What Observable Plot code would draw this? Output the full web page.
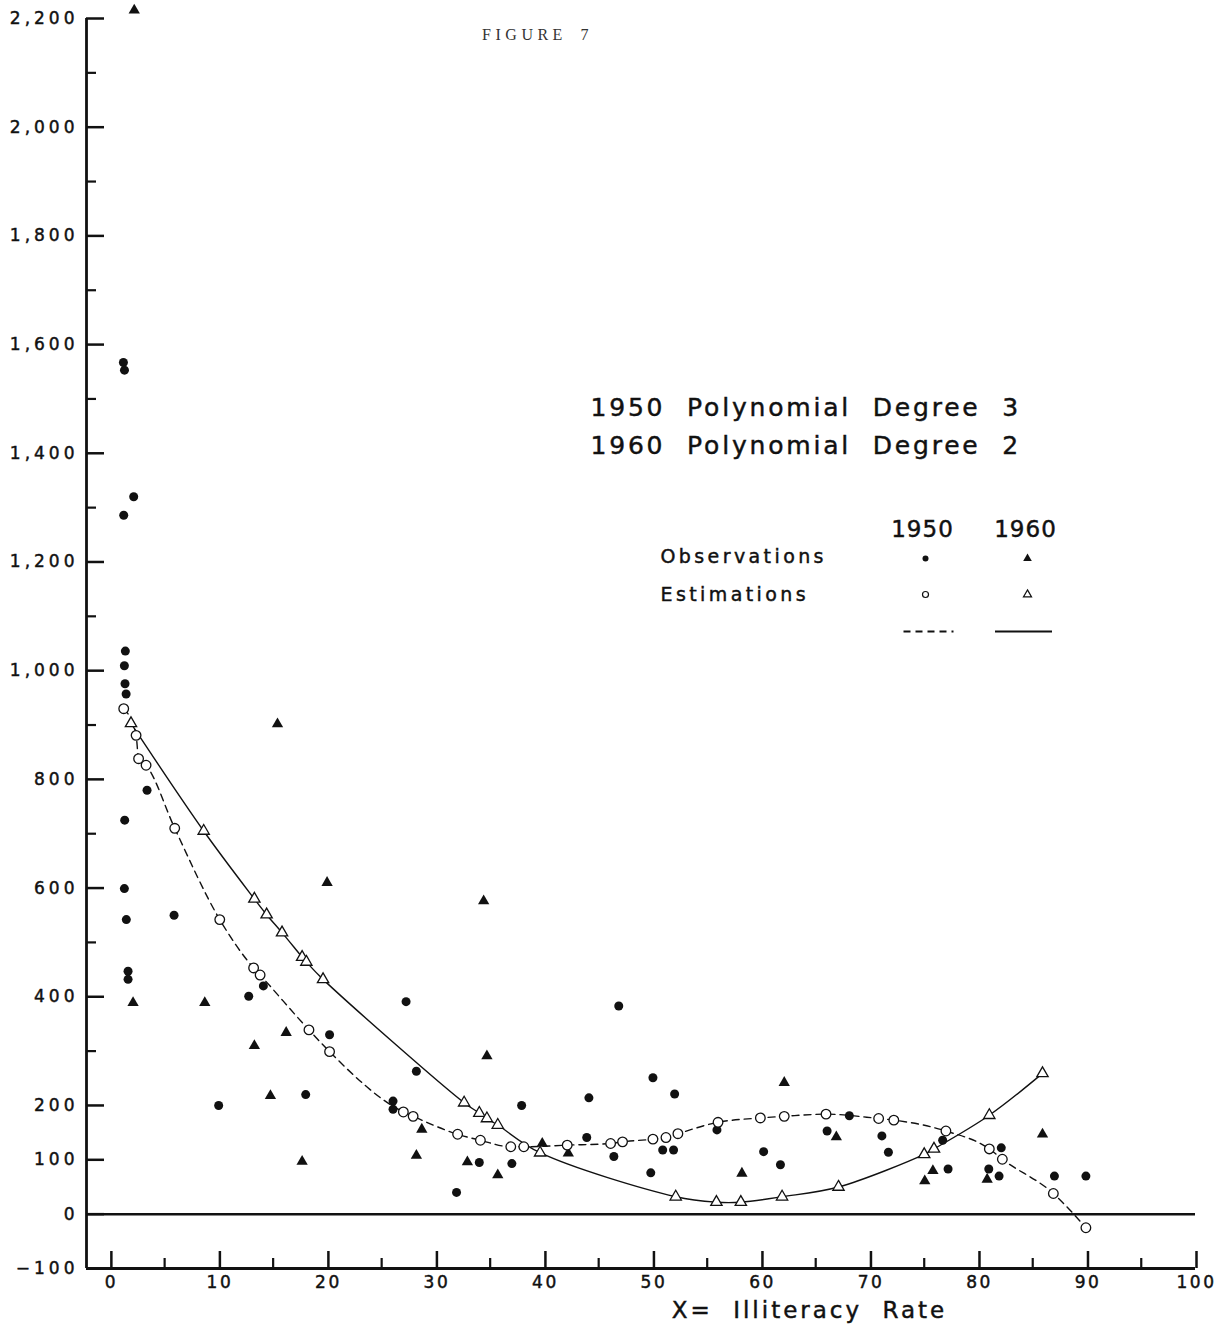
<!DOCTYPE html>
<html>
<head>
<meta charset="utf-8">
<script src="https://cdn.jsdelivr.net/npm/d3@7"></script>
<script src="https://cdn.jsdelivr.net/npm/@observablehq/plot@0.6"></script>
<style>
  body { margin: 0; background: #fff; }
  #chart svg { display: block; }
  g[aria-label="y-axis tick label"] text { letter-spacing: 4px; stroke: #111; stroke-width: 0.45px; }
  g[aria-label="x-axis tick label"] text { letter-spacing: 2.5px; stroke: #111; stroke-width: 0.45px; }
</style>
</head>
<body>
<div id="chart"></div>
<script>
// ---- axes ----
const xDomain = [-2.2, 100];
const yDomain = [-100, 2200];
const xTicksMajor = [0, 10, 20, 30, 40, 50, 60, 70, 80, 90, 100];
const xTicksMinor = [5, 15, 25, 35, 45, 55, 65, 75, 85, 95];
const yTicksMajor = [-100, 0, 100, 200, 400, 600, 800, 1000, 1200, 1400, 1600, 1800, 2000, 2200];
const yTicksMinor = [300, 500, 700, 900, 1100, 1300, 1500, 1700, 1900, 2100];

// ---- texts ----
const figureTitle = "FIGURE 7";
const xAxisTitle = "X= Illiteracy Rate";
const polyNotes = ["1950 Polynomial Degree 3", "1960 Polynomial Degree 2"];
const legendYears = ["1950", "1960"];
const legendRows = ["Observations", "Estimations"];

// ---- 1950 observations (filled circles) ----
const obs1950X = [1.2, 1.3, 2.15, 1.23, 1.38, 1.29, 1.35, 1.45, 3.38, 1.32, 1.29, 1.47, 5.87, 1.63, 1.63,
  12.75, 14.1, 9.98, 18.0, 20.2, 26.05, 26.05, 27.25, 28.2, 31.9, 34.0, 37.0, 37.9, 43.9, 44.1, 46.4,
  46.85, 49.8, 50.0, 50.9, 51.9, 52.0, 55.9, 60.2, 61.75, 66.05, 68.1, 71.1, 71.7, 76.7, 77.2, 80.95,
  81.9, 82.1, 87.0, 89.9];
const obs1950Y = [1567, 1553, 1320, 1286, 1036, 1009, 976, 957, 780, 725, 599, 542, 550, 447, 432,
  401, 420, 200, 220, 330, 208, 193, 391, 263, 40, 95, 93, 200, 141, 214, 106,
  383, 76, 251, 118, 118, 221, 155, 115, 91, 153, 181, 144, 114, 136, 83, 83,
  70, 122, 70, 70];

// ---- 1960 observations (filled triangles) ----
const obs1960X = [2.2, 2.09, 8.7, 13.27, 14.75, 15.4, 16.2, 17.67, 19.97, 28.2, 28.7, 32.9, 34.4, 34.7,
  35.7, 39.8, 42.2, 58.2, 62.1, 66.9, 75.05, 75.8, 80.8, 85.9];
const obs1960Y = [2215, 389, 389, 310, 218, 902, 334, 97, 610, 108, 156, 96, 576, 291,
  72, 130, 112, 75, 242, 142, 61, 80, 64, 147];

// ---- 1950 estimations (open circles, dashed curve) ----
const est1950X = [1.23, 2.37, 2.6, 3.29, 5.93, 10.08, 13.2, 13.8, 18.3, 20.2, 27.0, 27.9, 32.0, 34.1,
  36.9, 38.1, 42.1, 46.1, 47.2, 50.0, 51.2, 52.3, 56.0, 59.9, 62.1, 65.95, 70.8, 72.2, 77.0, 81.0,
  82.2, 86.9, 89.9];
const est1950Y = [930, 881, 838, 826, 710, 542, 453, 440, 339, 299, 188, 180, 147, 136,
  124, 124, 127, 130, 133, 138, 141, 148, 169, 177, 180, 184, 176, 173, 153, 120,
  101, 38, -25];

// ---- 1960 estimations (open triangles, solid curve) ----
const est1960X = [1.9, 8.6, 13.27, 14.4, 15.82, 17.67, 18.06, 19.6, 32.6, 34.0, 34.7, 35.7, 39.6,
  52.1, 55.85, 58.1, 61.9, 67.1, 75.0, 75.9, 81.0, 85.9];
const est1960Y = [903, 705, 580, 551, 518, 473, 464, 432, 205, 186, 176, 164, 113,
  32, 22, 22, 32, 50, 110, 120, 182, 259];

const zip = (xs, ys) => xs.map((x, i) => ({x, y: ys[i]}));
const obs1950 = zip(obs1950X, obs1950Y);
const obs1960 = zip(obs1960X, obs1960Y);
const est1950 = zip(est1950X, est1950Y);
const est1960 = zip(est1960X, est1960Y);

const ink = "#111";

// text placed relative to the frame's top-left corner
const note = (text, dx, dy, opts) =>
  Plot.text([text], {text: d => d, frameAnchor: "top-left", lineAnchor: "middle", dx, dy, fill: ink, ...opts});

// horizontal line symbol for legend keys
const hLine = (len) => ({draw(ctx) { ctx.moveTo(-len / 2, 0); ctx.lineTo(len / 2, 0); }});

const key = (dx, dy, opts) =>
  Plot.dot([0], {frameAnchor: "top-left", dx, dy, ...opts});

const chart = Plot.plot({
  width: 1220,
  height: 1331,
  marginLeft: 86,
  marginRight: 25,
  marginTop: 18,
  marginBottom: 63,
  x: {domain: xDomain},
  y: {domain: yDomain},
  style: {fontFamily: "'DejaVu Sans', sans-serif", color: ink, background: "#fff"},
  marks: [
    // y axis
    Plot.axisY({ticks: yTicksMajor, tickSize: -18, tickPadding: 26, strokeWidth: 2.5,
      tickFormat: d3.format(","), fontSize: 17, label: null, fill: ink}),
    Plot.axisY({ticks: yTicksMinor, tickSize: -10, strokeWidth: 2.2, tickFormat: () => "", label: null}),
    // x axis
    Plot.axisX({ticks: xTicksMajor, tickSize: -17, tickPadding: 24, strokeWidth: 2.5,
      fontSize: 17, label: null, fill: ink, dx: 1}),
    Plot.axisX({ticks: xTicksMinor, tickSize: -10, strokeWidth: 2.2, tickFormat: () => "", label: null}),
    Plot.ruleX([xDomain[0]], {stroke: ink, strokeWidth: 2.8}),
    Plot.ruleY([yDomain[0]], {stroke: ink, strokeWidth: 2.8}),
    Plot.ruleY([0], {stroke: ink, strokeWidth: 2.5}),

    // fitted curves
    Plot.line(est1950, {x: "x", y: "y", curve: "monotone-x", stroke: ink, strokeWidth: 1.4,
      strokeDasharray: "7,5"}),
    Plot.line(est1960, {x: "x", y: "y", curve: "catmull-rom", stroke: ink, strokeWidth: 1.4}),

    // observations
    Plot.dot(obs1950, {x: "x", y: "y", r: 4.5, fill: ink, stroke: "none"}),
    Plot.dot(obs1960, {x: "x", y: "y", r: 4.2, symbol: "triangle", fill: ink, stroke: "none"}),

    // estimations
    Plot.dot(est1950, {x: "x", y: "y", r: 4.8, fill: "#fff", stroke: ink, strokeWidth: 1.3}),
    Plot.dot(est1960, {x: "x", y: "y", r: 4.2, symbol: "triangle", fill: "#fff", stroke: ink, strokeWidth: 1.3}),

    // titles
    note(figureTitle, 451, 16, {textAnchor: "middle", fontSize: 16, fontFamily: "'Liberation Serif', serif",
      fill: "#333"}),
    Plot.text([xAxisTitle], {text: d => d, frameAnchor: "bottom", lineAnchor: "middle", dx: 168.5, dy: 42,
      fontSize: 23, fill: ink}),

    // polynomial notes
    note(polyNotes[0], 504, 389, {textAnchor: "start", fontSize: 25}),
    note(polyNotes[1], 504, 427, {textAnchor: "start", fontSize: 25}),

    // legend
    note(legendYears[0], 836, 511, {textAnchor: "middle", fontSize: 23}),
    note(legendYears[1], 939, 511, {textAnchor: "middle", fontSize: 23}),
    note(legendRows[0], 574, 538, {textAnchor: "start", fontSize: 19}),
    note(legendRows[1], 574, 576, {textAnchor: "start", fontSize: 19}),
    key(839, 540, {r: 3, fill: ink, stroke: "none"}),
    key(941, 540, {r: 3.2, symbol: "triangle", fill: ink, stroke: "none"}),
    key(839, 576, {r: 3, fill: "#fff", stroke: ink, strokeWidth: 1.2}),
    key(941, 576, {r: 3, symbol: "triangle", fill: "#fff", stroke: ink, strokeWidth: 1.2}),
    key(842, 613, {symbol: hLine(50), fill: "none", stroke: ink, strokeWidth: 2, strokeDasharray: "7,5"}),
    key(937, 613, {symbol: hLine(57), fill: "none", stroke: ink, strokeWidth: 2})
  ]
});

// letter and word spacing of the hand-lettered labels
const spacing = (content, ls, ws, thick) => {
  d3.select(chart).selectAll("text")
    .filter(function() { return this.textContent === content; })
    .style("letter-spacing", ls + "px")
    .style("word-spacing", ws + "px")
    .style("stroke", thick ? ink : null)
    .style("stroke-width", thick ? "0.45px" : null);
};
polyNotes.forEach(t => spacing(t, 2.8, 11, true));
legendYears.forEach(t => spacing(t, 1, 0, true));
legendRows.forEach(t => spacing(t, 3.4, 0, true));
spacing(xAxisTitle, 3, 10, true);
spacing(figureTitle, 4.5, 5, false);

document.getElementById("chart").appendChild(chart);
</script>
</body>
</html>
